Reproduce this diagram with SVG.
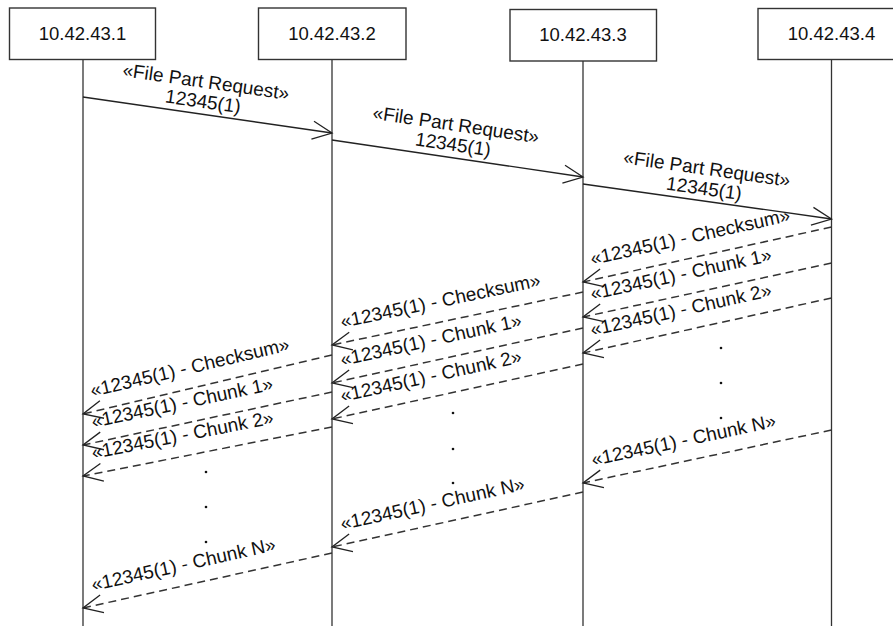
<svg xmlns="http://www.w3.org/2000/svg" width="893" height="626" viewBox="0 0 893 626">
<style>
.box{fill:#fff;stroke:#333;stroke-width:1.4}
.life{stroke:#333;stroke-width:1.3}
.t{font-family:"Liberation Sans",Arial,sans-serif;font-size:19px;fill:#111}
.b{font-size:18.5px}
.c{text-anchor:middle}
.req{stroke:#222;stroke-width:1.3;fill:none}
.ret{stroke:#333;stroke-width:1.5;fill:none;stroke-dasharray:8 5}
.dot{fill:#111}
</style>
<defs>
<marker id="open" markerUnits="userSpaceOnUse" markerWidth="26" markerHeight="26" viewBox="-23 -13 26 26" refX="0" refY="0" orient="auto">
<path d="M-19.5,-9 L0,0 L-19.5,9" fill="none" stroke="#222" stroke-width="1.3" stroke-dasharray="none"/>
</marker>
</defs>
<rect width="893" height="626" fill="#fff"/>
<g id="lifeline1">
<line class="life" x1="83" y1="59.5" x2="83" y2="626"/>
<rect class="box" x="9.5" y="8" width="146" height="51.5"/>
<text class="t b c" x="82.5" y="40">10.42.43.1</text>
</g>
<g id="lifeline2">
<line class="life" x1="332" y1="59.5" x2="332" y2="626"/>
<rect class="box" x="258.5" y="8" width="147.5" height="51.5"/>
<text class="t b c" x="332" y="40">10.42.43.2</text>
</g>
<g id="lifeline3">
<line class="life" x1="583" y1="61" x2="583" y2="626"/>
<rect class="box" x="510" y="9.5" width="146.5" height="51.5"/>
<text class="t b c" x="583" y="41">10.42.43.3</text>
</g>
<g id="lifeline4">
<line class="life" x1="831.5" y1="59.5" x2="831.5" y2="626"/>
<rect class="box" x="758" y="8.5" width="150" height="51"/>
<text class="t b c" x="831.5" y="40">10.42.43.4</text>
</g>
<g id="connectors">
<line class="req" x1="83" y1="97" x2="332" y2="133" marker-end="url(#open)"/>
<g transform="translate(205,88) rotate(8.2)"><text class="t c" x="0" y="0">«File Part Request»</text><text class="t c" x="0" y="20">12345(1)</text></g>
<line class="req" x1="332" y1="140" x2="583" y2="177" marker-end="url(#open)"/>
<g transform="translate(455,131) rotate(8.4)"><text class="t c" x="0" y="0">«File Part Request»</text><text class="t c" x="0" y="20">12345(1)</text></g>
<line class="req" x1="583" y1="184" x2="831.5" y2="219" marker-end="url(#open)"/>
<g transform="translate(706,175) rotate(8)"><text class="t c" x="0" y="0">«File Part Request»</text><text class="t c" x="0" y="20">12345(1)</text></g>

<line class="ret" x1="831.5" y1="227" x2="583" y2="282" marker-end="url(#open)"/>
<text class="t" transform="translate(592,265) rotate(-12.5)">«12345(1) - Checksum»</text>
<line class="ret" x1="831.5" y1="263" x2="583" y2="317" marker-end="url(#open)"/>
<text class="t" transform="translate(592,300) rotate(-12.3)">«12345(1) - Chunk 1»</text>
<line class="ret" x1="831.5" y1="298" x2="583" y2="353" marker-end="url(#open)"/>
<text class="t" transform="translate(592,336) rotate(-12.5)">«12345(1) - Chunk 2»</text>
<line class="ret" x1="831.5" y1="430" x2="583" y2="483" marker-end="url(#open)"/>
<text class="t" transform="translate(593,466) rotate(-12.1)">«12345(1) - Chunk N»</text>

<line class="ret" x1="583" y1="292" x2="332" y2="345" marker-end="url(#open)"/>
<text class="t" transform="translate(342,328) rotate(-11.9)">«12345(1) - Checksum»</text>
<line class="ret" x1="583" y1="328" x2="332" y2="383" marker-end="url(#open)"/>
<text class="t" transform="translate(342,366) rotate(-12.4)">«12345(1) - Chunk 1»</text>
<line class="ret" x1="583" y1="364" x2="332" y2="419" marker-end="url(#open)"/>
<text class="t" transform="translate(342,402) rotate(-12.4)">«12345(1) - Chunk 2»</text>
<line class="ret" x1="583" y1="492" x2="332" y2="547" marker-end="url(#open)"/>
<text class="t" transform="translate(342,530) rotate(-12.4)">«12345(1) - Chunk N»</text>

<line class="ret" x1="332" y1="355" x2="83" y2="414" marker-end="url(#open)"/>
<text class="t" transform="translate(92,397) rotate(-13.3)">«12345(1) - Checksum»</text>
<line class="ret" x1="332" y1="392" x2="83" y2="445" marker-end="url(#open)"/>
<text class="t" transform="translate(93,428) rotate(-12)">«12345(1) - Chunk 1»</text>
<line class="ret" x1="332" y1="427" x2="83" y2="476" marker-end="url(#open)"/>
<text class="t" transform="translate(93,459) rotate(-11.1)">«12345(1) - Chunk 2»</text>
<line class="ret" x1="332" y1="553" x2="83" y2="608" marker-end="url(#open)"/>
<text class="t" transform="translate(93,591) rotate(-12.5)">«12345(1) - Chunk N»</text>
</g>
<g id="ellipsis">
<circle class="dot" cx="721" cy="348" r="1.3"/>
<circle class="dot" cx="721" cy="383" r="1.3"/>
<circle class="dot" cx="721" cy="418" r="1.3"/>
<circle class="dot" cx="453" cy="413" r="1.3"/>
<circle class="dot" cx="453" cy="449" r="1.3"/>
<circle class="dot" cx="453" cy="483" r="1.3"/>
<circle class="dot" cx="206" cy="472" r="1.3"/>
<circle class="dot" cx="206" cy="507" r="1.3"/>
<circle class="dot" cx="206" cy="542" r="1.3"/>
</g>
</svg>
